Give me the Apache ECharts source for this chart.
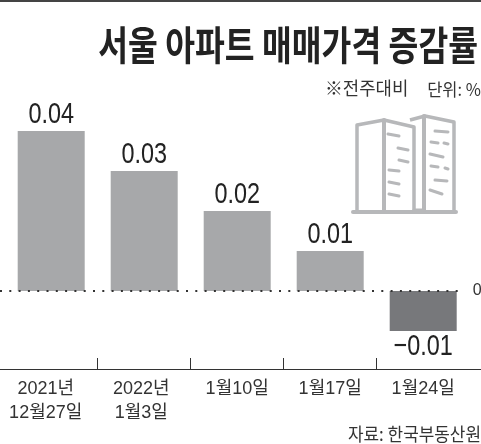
<!DOCTYPE html>
<html><head><meta charset="utf-8">
<style>html,body{margin:0;padding:0;background:#fff}#c{width:481px;height:444px}</style>
<script src="https://cdn.jsdelivr.net/npm/echarts@6/dist/echarts.min.js"></script>
</head><body><div id="c"></div>
<script>
const categories = ['2021년\n12월27일','2022년\n1월3일','1월10일','1월17일','1월24일'];
const values = [0.04,0.03,0.02,0.01,-0.01];
const titleText = '서울 아파트 매매가격 증감률';
const noteText = '※전주대비';
const unitText = '단위: %';
const sourceText = '자료: 한국부동산원';
const KR = '"Noto Sans CJK KR"';
const LAT = '"Liberation Sans"';
const gray = '#b7b8ba';
const gridLeft = 4.7, bandWidth = 93;
const tickPositions = [1,2,3,4].map(i=>gridLeft+i*bandWidth);
const labelRightPad = [11,6,0,0,0];
const chart = echarts.init(document.getElementById('c'));
const line = (x1,y1,x2,y2,w) => ({type:'line',silent:true,shape:{x1,y1,x2,y2},style:{stroke:gray,lineWidth:w||3,lineCap:'round'}});
const poly = pts => ({type:'polyline',silent:true,shape:{points:pts},style:{stroke:gray,lineWidth:3.5,fill:null,lineJoin:'round'}});
const dashes = [[388,134,399,136],[398,148,408,150],[399,160,408,162],[389,170,399,171],[389,182,399,184],[389,194,399,196],
 [435,131,448,132],[431,142,438,143],[444,143,448,144],[430,154,443,157],[431,166,438,167],[445,168,448,169],[435,180,447,181],[430,190,442,194]];
chart.setOption({
 animation:false,
 graphic:[
  {type:'rect',silent:true,shape:{x:0,y:0,width:481,height:2},style:{fill:'#444'}},
  {type:'text',silent:true,x:478,y:45,style:{text:titleText,font:'700 40px '+KR,fill:'#222',align:'right',verticalAlign:'middle'},scaleX:0.81},
  {type:'text',silent:true,x:325,y:88,style:{text:noteText,font:'18px '+KR,fill:'#333',verticalAlign:'middle'},scaleX:0.99},
  {type:'text',silent:true,x:481,y:90,style:{text:unitText,font:'17px '+KR,fill:'#333',align:'right',verticalAlign:'middle'},scaleX:0.97},
  {type:'text',silent:true,x:481,y:434,style:{text:sourceText,font:'18px '+KR,fill:'#333',align:'right',verticalAlign:'middle'},scaleX:0.94},
  line(353,212,456,212,4),
  poly([[357,210],[357,125],[384,120],[414,127],[414,210]]),
  line(384,120,384,210,4),
  poly([[410,120],[425,116],[454,122],[454,210]]),
  line(424,116,424,210,4),
  line(414,210,424,210,3),
  ...dashes.map(d=>line(d[0],d[1],d[2],d[3],3))
 ],
 grid:[{left:gridLeft,width:bandWidth*5,top:91,height:278,outerBoundsMode:'none'},{left:0,right:0,top:91,height:278,outerBoundsMode:'none'}],
 xAxis:[
  {type:'category',gridIndex:0,data:categories.map((c,i)=>({value:c,textStyle:{padding:[0,labelRightPad[i],0,0]}})),position:'bottom',
   axisLine:{show:false,onZero:false},axisTick:{show:false},
   axisLabel:{color:'#333',fontFamily:LAT+','+KR,fontSize:18,lineHeight:24,margin:8,interval:0,verticalAlign:'top'}},
  {type:'value',gridIndex:1,min:0,max:481,position:'bottom',splitLine:{show:false},
   axisLine:{show:true,onZero:false,lineStyle:{color:'#333',width:1}},
   axisTick:{show:true,inside:true,length:11,customValues:tickPositions,lineStyle:{color:'#333',width:1}},
   axisLabel:{show:false}}
 ],
 yAxis:[
  {type:'value',gridIndex:0,min:-0.0195,max:0.05,position:'right',splitLine:{show:false},axisLine:{show:false},axisTick:{show:false},
   axisLabel:{customValues:[0],formatter:v=>String(v),color:'#333',fontFamily:LAT,fontSize:16,margin:3}},
  {type:'value',gridIndex:1,show:false}
 ],
 series:[{type:'bar',data:values,barWidth:67,xAxisIndex:0,yAxisIndex:0,
  itemStyle:{color:p=>p.value<0?'#77787b':'#a7a8aa'},
  markLine:{silent:true,symbol:'none',label:{show:false},z:5,
   lineStyle:{type:[2,7.3],color:'#333',width:2},
   data:[[{x:0,yAxis:0},{x:465,yAxis:0}]]}
 },{type:'custom',xAxisIndex:0,yAxisIndex:0,z:6,silent:true,
  data:values.map((v,i)=>[i,v]),encode:{x:0,y:1},clip:false,
  renderItem:(params,api)=>{
   const v=api.value(1),p=api.coord([api.value(0),v]);
   return {type:'text',x:p[0],y:p[1]+(v<0?1:-1),scaleX:0.78,
    style:{text:String(v).replace('-','−'),font:'30px '+LAT,fill:'#222',align:'center',verticalAlign:v<0?'top':'bottom'}};
  }}]
});
</script></body></html>
